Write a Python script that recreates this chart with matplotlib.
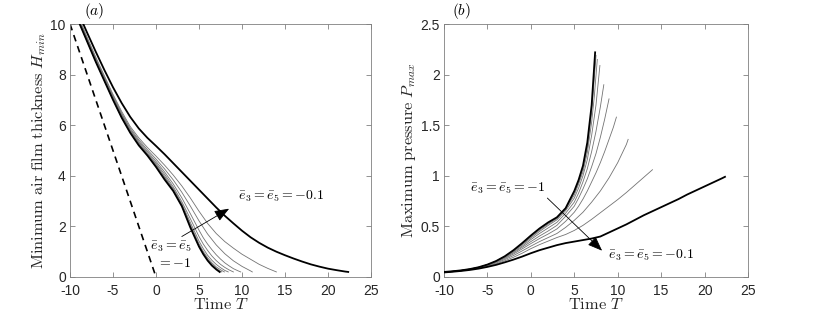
import matplotlib
matplotlib.use("Agg")
import matplotlib.pyplot as plt

plt.rcParams['mathtext.fontset'] = 'cm'
plt.rcParams['font.family'] = ['Liberation Sans', 'DejaVu Sans']

# ---------------- data ----------------
T_base = [-10, -9, -8, -7, -6, -5, -4, -3, -2, -1, 0, 1, 2, 3, 4, 5]

# time samples for each curve (e3 = e5 = -1.0 ... -0.1)
T_e10 = T_base + [5.5, 6, 6.5, 7, 7.2, 7.4]
T_e09 = T_base + [5.5, 6, 6.5, 7, 7.25, 7.5]
T_e08 = T_base + [5.5, 6, 6.5, 7, 7.3, 7.65]
T_e07 = T_base + [5.5, 6, 6.5, 7, 7.5, 7.95]
T_e06 = T_base + [5.5, 6, 6.5, 7, 7.5, 8, 8.4]
T_e05 = T_base + [5.5, 6, 6.5, 7, 7.5, 8, 8.5, 9.0]
T_e04 = T_base + [5.5, 6, 6.5, 7, 7.5, 8, 8.5, 9, 9.5, 9.85]
T_e03 = T_base + [6, 7, 8, 9, 10, 11, 11.2]
T_e02 = T_base + [6, 7, 8, 9, 10, 11, 12, 13, 14]
T_e01 = T_base + [6, 7, 8, 9, 10, 11, 12, 13, 14, 15, 16, 17, 18, 19, 20, 21, 22, 22.35]

# (a) minimum air film thickness
H_e10 = [10.9, 10.1, 9.3, 8.5, 7.75, 7.0, 6.3, 5.7, 5.2, 4.8, 4.35, 3.85, 3.4, 2.8, 1.95, 1.2,
         0.9, 0.65, 0.45, 0.3, 0.25, 0.2]
H_e09 = [10.9, 10.1, 9.31, 8.51, 7.76, 7.01, 6.31, 5.71, 5.21, 4.81, 4.36, 3.87, 3.41, 2.81, 1.97, 1.22,
         0.93, 0.67, 0.47, 0.32, 0.26, 0.2]
H_e08 = [10.92, 10.12, 9.32, 8.52, 7.77, 7.03, 6.33, 5.72, 5.23, 4.82, 4.38, 3.9, 3.43, 2.83, 2.0, 1.25,
         0.96, 0.7, 0.5, 0.35, 0.27, 0.2]
H_e07 = [10.93, 10.13, 9.33, 8.54, 7.79, 7.05, 6.35, 5.74, 5.25, 4.84, 4.41, 3.93, 3.46, 2.85, 2.06, 1.31,
         1.01, 0.76, 0.56, 0.4, 0.29, 0.2]
H_e06 = [10.95, 10.15, 9.35, 8.56, 7.81, 7.07, 6.37, 5.76, 5.27, 4.86, 4.45, 3.98, 3.5, 2.9, 2.15, 1.42,
         1.12, 0.86, 0.66, 0.5, 0.37, 0.26, 0.2]
H_e05 = [10.97, 10.17, 9.37, 8.58, 7.83, 7.09, 6.4, 5.79, 5.31, 4.9, 4.5, 4.06, 3.57, 2.98, 2.3, 1.6,
         1.3, 1.05, 0.83, 0.65, 0.5, 0.38, 0.28, 0.2]
H_e04 = [11.0, 10.2, 9.4, 8.61, 7.86, 7.12, 6.43, 5.83, 5.36, 4.96, 4.57, 4.15, 3.68, 3.13, 2.5, 1.85,
         1.55, 1.3, 1.08, 0.88, 0.71, 0.56, 0.44, 0.33, 0.25, 0.2]
H_e03 = [11.03, 10.23, 9.43, 8.64, 7.9, 7.16, 6.48, 5.88, 5.42, 5.03, 4.66, 4.27, 3.84, 3.35, 2.8, 2.22,
         1.7, 1.27, 0.92, 0.64, 0.42, 0.24, 0.2]
H_e02 = [11.07, 10.27, 9.47, 8.69, 7.95, 7.22, 6.55, 5.95, 5.5, 5.12, 4.78, 4.42, 4.03, 3.6, 3.12, 2.6,
         2.12, 1.72, 1.4, 1.14, 0.9, 0.7, 0.5, 0.34, 0.2]
H_e01 = [11.2, 10.42, 9.65, 8.9, 8.18, 7.5, 6.88, 6.33, 5.87, 5.5, 5.18, 4.85, 4.5, 4.15, 3.8, 3.45,
         3.1, 2.75, 2.42, 2.12, 1.83, 1.57, 1.35, 1.16, 1.0, 0.86, 0.73, 0.61, 0.5, 0.41, 0.33, 0.27,
         0.215, 0.2]

# rigid-body reference (dashed)
T_rigid = [-10, 0]
H_rigid = [10, 0]

# (b) maximum pressure
P_e10 = [0.05, 0.057, 0.066, 0.079, 0.097, 0.123, 0.158, 0.205, 0.265, 0.335, 0.41, 0.48, 0.54, 0.59, 0.68, 0.85,
         0.96, 1.1, 1.33, 1.7, 1.96, 2.22]
P_e09 = [0.05, 0.057, 0.066, 0.079, 0.097, 0.122, 0.157, 0.203, 0.262, 0.33, 0.403, 0.472, 0.532, 0.584, 0.675, 0.83,
         0.94, 1.07, 1.28, 1.63, 1.9, 2.19]
P_e08 = [0.049, 0.056, 0.066, 0.078, 0.096, 0.122, 0.156, 0.201, 0.258, 0.325, 0.396, 0.463, 0.523, 0.577, 0.668, 0.81,
         0.92, 1.04, 1.23, 1.53, 1.78, 2.15]
P_e07 = [0.049, 0.056, 0.066, 0.078, 0.096, 0.121, 0.155, 0.2, 0.255, 0.318, 0.385, 0.45, 0.51, 0.565, 0.655, 0.78,
         0.88, 1.0, 1.16, 1.4, 1.7, 2.09]
P_e06 = [0.049, 0.056, 0.065, 0.078, 0.096, 0.12, 0.153, 0.195, 0.247, 0.305, 0.37, 0.43, 0.485, 0.54, 0.63, 0.74,
         0.83, 0.94, 1.07, 1.24, 1.44, 1.68, 1.9]
P_e05 = [0.048, 0.055, 0.065, 0.077, 0.095, 0.118, 0.15, 0.19, 0.238, 0.293, 0.35, 0.405, 0.455, 0.51, 0.6, 0.7,
         0.78, 0.87, 0.97, 1.09, 1.22, 1.38, 1.56, 1.76]
P_e04 = [0.048, 0.055, 0.064, 0.076, 0.093, 0.116, 0.145, 0.182, 0.227, 0.278, 0.33, 0.38, 0.425, 0.475, 0.55, 0.64,
         0.7, 0.77, 0.85, 0.94, 1.03, 1.13, 1.24, 1.36, 1.48, 1.58]
P_e03 = [0.047, 0.054, 0.063, 0.075, 0.091, 0.112, 0.138, 0.172, 0.212, 0.258, 0.305, 0.35, 0.39, 0.43, 0.49, 0.56,
         0.64, 0.74, 0.85, 0.98, 1.13, 1.31, 1.36]
P_e02 = [0.046, 0.053, 0.062, 0.073, 0.088, 0.107, 0.13, 0.16, 0.195, 0.235, 0.28, 0.32, 0.355, 0.39, 0.42, 0.46,
         0.51, 0.57, 0.635, 0.7, 0.765, 0.835, 0.91, 0.985, 1.06]
P_e01 = [0.045, 0.052, 0.06, 0.07, 0.083, 0.1, 0.12, 0.145, 0.172, 0.202, 0.235, 0.265, 0.29, 0.315, 0.335, 0.35,
         0.365, 0.38, 0.4, 0.44, 0.48, 0.52, 0.565, 0.61, 0.65, 0.69, 0.73, 0.77, 0.815, 0.855, 0.895, 0.935,
         0.975, 0.99]

x_ticks = [-10, -5, 0, 5, 10, 15, 20, 25]
h_ticks = [0, 2, 4, 6, 8, 10]
p_ticks = [0, 0.5, 1, 1.5, 2, 2.5]
p_tick_labels = ['0', '0.5', '1', '1.5', '2', '2.5']

# ---------------- plotting ----------------
T_all = [T_e10, T_e09, T_e08, T_e07, T_e06, T_e05, T_e04, T_e03, T_e02, T_e01]
H_all = [H_e10, H_e09, H_e08, H_e07, H_e06, H_e05, H_e04, H_e03, H_e02, H_e01]
P_all = [P_e10, P_e09, P_e08, P_e07, P_e06, P_e05, P_e04, P_e03, P_e02, P_e01]

fig = plt.figure(figsize=(8.17, 3.15), dpi=100)
axA = fig.add_axes([70/817, 38/315, 301/817, 253/315])
axB = fig.add_axes([444/817, 38/315, 304/817, 253/315])

def style_line(i):
    if i == 0 or i == len(T_all) - 1:
        return dict(color='black', lw=1.3, zorder=3)
    return dict(color='0.45', lw=0.6, zorder=2)

for i, (t, h, p) in enumerate(zip(T_all, H_all, P_all)):
    axA.plot(t, h, **style_line(i))
    axB.plot(t, p, **style_line(i))

axA.plot(T_rigid, H_rigid, color='black', lw=1.2, ls=(0, (4, 3)))

label_kw = dict(fontsize=11.8, color='0.15')
for ax in (axA, axB):
    ax.set_xlim(-10, 25)
    ax.set_xticks(x_ticks)
    ax.set_xticklabels([str(v) for v in x_ticks])
    ax.tick_params(direction='in', top=True, right=True, length=3.5, width=0.6,
                   colors='0.5', labelcolor='0.15', labelsize=10)
    ax.tick_params(axis='x', pad=5)
    ax.tick_params(axis='y', pad=3)
    for s in ax.spines.values():
        s.set_color('0.5')
        s.set_linewidth(0.6)
    ax.set_xlabel(r'$\mathrm{Time}\ T$', labelpad=-1, **label_kw)

axA.set_ylim(0, 10)
axA.set_yticks(h_ticks)
axA.set_yticklabels([str(v) for v in h_ticks])
axA.set_ylabel(r'$\mathrm{Minimum\ air\ film\ thickness}\ H_{min}$', labelpad=2, **label_kw)

axB.set_ylim(0, 2.5)
axB.set_yticks(p_ticks)
axB.set_yticklabels(p_tick_labels)
axB.set_ylabel(r'$\mathrm{Maximum\ pressure}\ P_{max}$', labelpad=2, **label_kw)

axA.text(0.08, 1.012, r'$(a)$', transform=axA.transAxes, ha='center', va='bottom', fontsize=11)
axB.text(0.056, 1.012, r'$(b)$', transform=axB.transAxes, ha='center', va='bottom', fontsize=11)

arrow_kw = dict(arrowstyle='-|>,head_length=0.9,head_width=0.35', color='black', lw=0.6,
                shrinkA=0, shrinkB=0)
axA.annotate('', xy=(8.5, 2.7), xytext=(3.0, 1.6), arrowprops=arrow_kw)
axA.text(9.5, 3.2, r'$\bar{e}_3=\bar{e}_5=-0.1$', fontsize=10, ha='left', va='center')
axA.text(1.7, 1.2, r'$\bar{e}_3=\bar{e}_5$', fontsize=10, ha='center', va='center')
axA.text(2.1, 0.55, r'$=-1$', fontsize=10, ha='center', va='center')

axB.annotate('', xy=(8.2, 0.26), xytext=(1.9, 0.78), arrowprops=arrow_kw)
axB.text(-7.0, 0.88, r'$\bar{e}_3=\bar{e}_5=-1$', fontsize=10, ha='left', va='center')
axB.text(8.9, 0.21, r'$\bar{e}_3=\bar{e}_5=-0.1$', fontsize=10, ha='left', va='center')

fig.savefig('out.png', dpi=100)
